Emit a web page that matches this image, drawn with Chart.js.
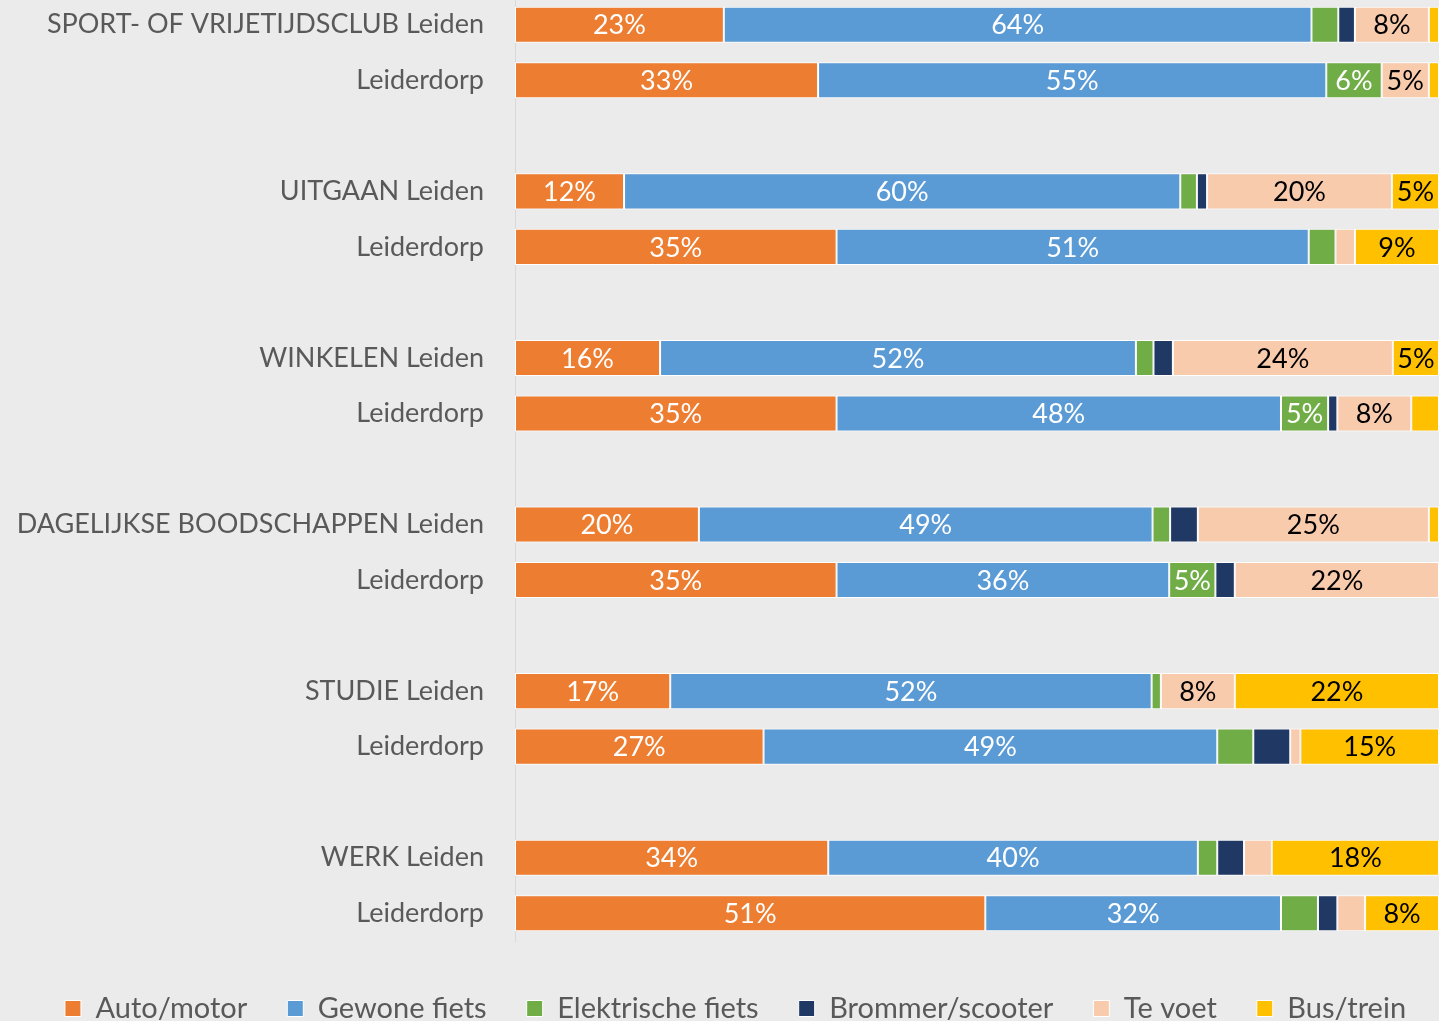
<!DOCTYPE html>
<html>
<head>
<meta charset="utf-8">
<script src="https://cdn.jsdelivr.net/npm/chart.js@4.4.1/dist/chart.umd.min.js"></script>
<style>
  html, body { margin: 0; padding: 0; background: #ebebeb; overflow: hidden; }
  #wrap { position: absolute; left: 0; top: -3px; width: 1439px; height: 1036px; }
</style>
</head>
<body>
<div id="wrap"><canvas id="vervoerChart"></canvas></div>
<script>
// rijen: per motief Leiden + Leiderdorp, lege rij als tussenruimte
const categories = [
  'SPORT- OF VRIJETIJDSCLUB Leiden', 'Leiderdorp', '',
  'UITGAAN Leiden', 'Leiderdorp', '',
  'WINKELEN Leiden', 'Leiderdorp', '',
  'DAGELIJKSE BOODSCHAPPEN Leiden', 'Leiderdorp', '',
  'STUDIE Leiden', 'Leiderdorp', '',
  'WERK Leiden', 'Leiderdorp'
];

const seriesNames = ['Auto/motor', 'Gewone fiets', 'Elektrische fiets', 'Brommer/scooter', 'Te voet', 'Bus/trein'];

const autoMotor     = [22.6, 32.8, null, 11.8, 34.8, null, 15.7, 34.8, null, 19.9, 34.8, null, 16.8, 26.9, null, 33.9, 50.9];
const gewoneFiets   = [63.6, 55.0, null, 60.2, 51.1, null, 51.5, 48.1, null, 49.1, 36.0, null, 52.1, 49.1, null, 40.0, 32.0];
const elektrisch    = [2.9, 6.0, null, 1.8, 2.9, null, 1.9, 5.1, null, 1.9, 5.0, null, 1.0, 3.9, null, 2.1, 4.0];
const brommer       = [1.8, 0, null, 1.1, 0, null, 2.1, 1.0, null, 3.0, 2.1, null, 0, 4.0, null, 2.9, 2.1];
const teVoet        = [8.0, 5.1, null, 20.0, 2.1, null, 23.8, 8.0, null, 25.0, 22.1, null, 8.0, 1.1, null, 3.0, 3.0];
const busTrein      = [1.1, 1.1, null, 5.1, 9.1, null, 5.0, 3.0, null, 1.1, 0, null, 22.1, 15.0, null, 18.1, 8.0];

const seriesValues = [autoMotor, gewoneFiets, elektrisch, brommer, teVoet, busTrein];
const colors = ['#ED7D31', '#5B9BD5', '#70AD47', '#203864', '#F8CBAD', '#FFC000'];
const labelColors = ['#ffffff', '#ffffff', '#ffffff', '#ffffff', '#000000', '#000000'];

const fontFamily = 'Lato, "Liberation Sans", sans-serif';
Chart.defaults.font.family = fontFamily;

// percentages midden in de segmenten (alleen vanaf 5%)
const segmentLabels = {
  id: 'segmentLabels',
  afterDatasetsDraw(chart) {
    const ctx = chart.ctx;
    ctx.save();
    ctx.font = '27px ' + fontFamily;
    ctx.textAlign = 'center';
    ctx.textBaseline = 'middle';
    chart.data.datasets.forEach((ds, i) => {
      const meta = chart.getDatasetMeta(i);
      meta.data.forEach((bar, j) => {
        const v = ds.data[j];
        if (v == null || Math.round(v) < 5) return;
        const p = bar.getProps(['x', 'y', 'base'], true);
        ctx.fillStyle = labelColors[i];
        ctx.fillText(Math.round(v) + '%', (p.x + p.base) / 2, p.y + 1);
      });
    });
    ctx.restore();
  }
};

// legenda iets naar rechts, zoals in het origineel
const legendShift = {
  id: 'legendShift',
  afterLayout(chart) {
    chart.legend.left += 16;
    chart.legend.right += 16;
  }
};

new Chart(document.getElementById('vervoerChart'), {
  type: 'bar',
  data: {
    labels: categories,
    datasets: seriesValues.map((vals, i) => ({
      label: seriesNames[i],
      data: vals,
      backgroundColor: colors[i],
      borderColor: '#ffffff',
      borderWidth: 1,
      borderSkipped: false,
      categoryPercentage: 1,
      barPercentage: 0.65
    }))
  },
  options: {
    indexAxis: 'y',
    responsive: true,
    maintainAspectRatio: false,
    animation: false,
    layout: { padding: 0 },
    scales: {
      x: {
        stacked: true,
        min: 0,
        max: 100,
        display: true,
        ticks: { display: false },
        grid: { display: false },
        border: { display: false },
        afterFit(scale) { scale.height = 13; }
      },
      y: {
        stacked: true,
        grid: { display: false, drawTicks: false },
        border: { display: true, color: '#d9d9d9', width: 1 },
        ticks: {
          color: '#595959',
          padding: 31,
          font: { size: 27 },
          autoSkip: false
        },
        afterFit(scale) {
          scale.width = 515;
          scale.paddingTop = 0;
          scale.paddingBottom = 0;
        }
      }
    },
    plugins: {
      legend: {
        position: 'bottom',
        labels: {
          color: '#595959',
          font: { size: 29 },
          boxWidth: 16,
          boxHeight: 16,
          padding: 40
        }
      },
      tooltip: { enabled: false }
    }
  },
  plugins: [segmentLabels, legendShift]
});
</script>
</body>
</html>
